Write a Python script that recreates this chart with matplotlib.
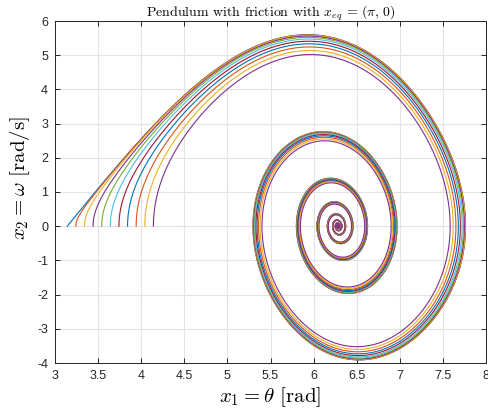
import numpy as np
import matplotlib
matplotlib.use("Agg")
import matplotlib.pyplot as plt

# damped pendulum:  x1' = x2,  x2' = -(g/l) sin(x1) - b x2
g_over_l = 11.8
b = 0.73
t_end = 20.0
dt = 0.002

# initial conditions, released at rest just past the upper equilibrium
theta0 = [3.1426, 3.2416, 3.3416, 3.4416, 3.5416, 3.6416,
          3.7416, 3.8416, 3.9416, 4.0416, 4.1416]
omega0 = [0.0, 0.0, 0.0, 0.0, 0.0, 0.0, 0.0, 0.0, 0.0, 0.0, 0.0]

xticks = [3, 3.5, 4, 4.5, 5, 5.5, 6, 6.5, 7, 7.5, 8]
xtick_labels = ["3", "3.5", "4", "4.5", "5", "5.5", "6", "6.5", "7", "7.5", "8"]
yticks = [-4, -3, -2, -1, 0, 1, 2, 3, 4, 5, 6]
ytick_labels = ["-4", "-3", "-2", "-1", "0", "1", "2", "3", "4", "5", "6"]

matlab_colors = ["#0072BD", "#D95319", "#EDB120", "#7E2F8E",
                 "#77AC30", "#4DBEEE", "#A2142F"]


def f(x):
    return np.array([x[1], -g_over_l * np.sin(x[0]) - b * x[1]])


# RK4 for all initial conditions at once
n = int(t_end / dt)
x = np.array([theta0, omega0], dtype=float)
traj = np.empty((n + 1, 2, len(theta0)))
traj[0] = x
for i in range(n):
    k1 = f(x)
    k2 = f(x + 0.5 * dt * k1)
    k3 = f(x + 0.5 * dt * k2)
    k4 = f(x + dt * k3)
    x = x + dt / 6.0 * (k1 + 2 * k2 + 2 * k3 + k4)
    traj[i + 1] = x

plt.rcParams["mathtext.fontset"] = "cm"
plt.rcParams["axes.unicode_minus"] = False

fig = plt.figure(figsize=(4.88, 4.16), dpi=100)
ax = fig.add_axes([55 / 488, 53 / 416, 431 / 488, 342 / 416])

for j in range(len(theta0)):
    ax.plot(traj[:, 0, j], traj[:, 1, j], color=matlab_colors[j % 7], lw=0.8)

ax.set_xlim(3, 8)
ax.set_ylim(-4, 6)
ax.set_xticks(xticks)
ax.set_xticklabels(xtick_labels)
ax.set_yticks(yticks)
ax.set_yticklabels(ytick_labels)
ax.grid(True, color="#e3e3e3", lw=0.8)
ax.set_axisbelow(True)
ax.tick_params(direction="in", top=True, right=True, length=3.5, width=0.7,
               colors="#262626", labelsize=9, pad=5)
for lab in ax.get_xticklabels() + ax.get_yticklabels():
    lab.set_fontfamily("Liberation Sans")
for sp in ax.spines.values():
    sp.set_color("#262626")
    sp.set_linewidth(0.7)

ax.set_title(r"Pendulum with friction with $x_{eq}\,=\,(\pi,\,0)$",
             fontfamily="cmr10", fontsize=10, pad=3)
ax.set_xlabel(r"$x_1 = \theta$ [rad]", fontfamily="cmr10", fontsize=15)
ax.set_ylabel(r"$x_2 = \omega$ [rad/s]", fontfamily="cmr10", fontsize=15)
ax.xaxis.set_label_coords(0.5, -0.066)
ax.yaxis.set_label_coords(-0.054, 0.54)

fig.savefig("out.png", dpi=100)
